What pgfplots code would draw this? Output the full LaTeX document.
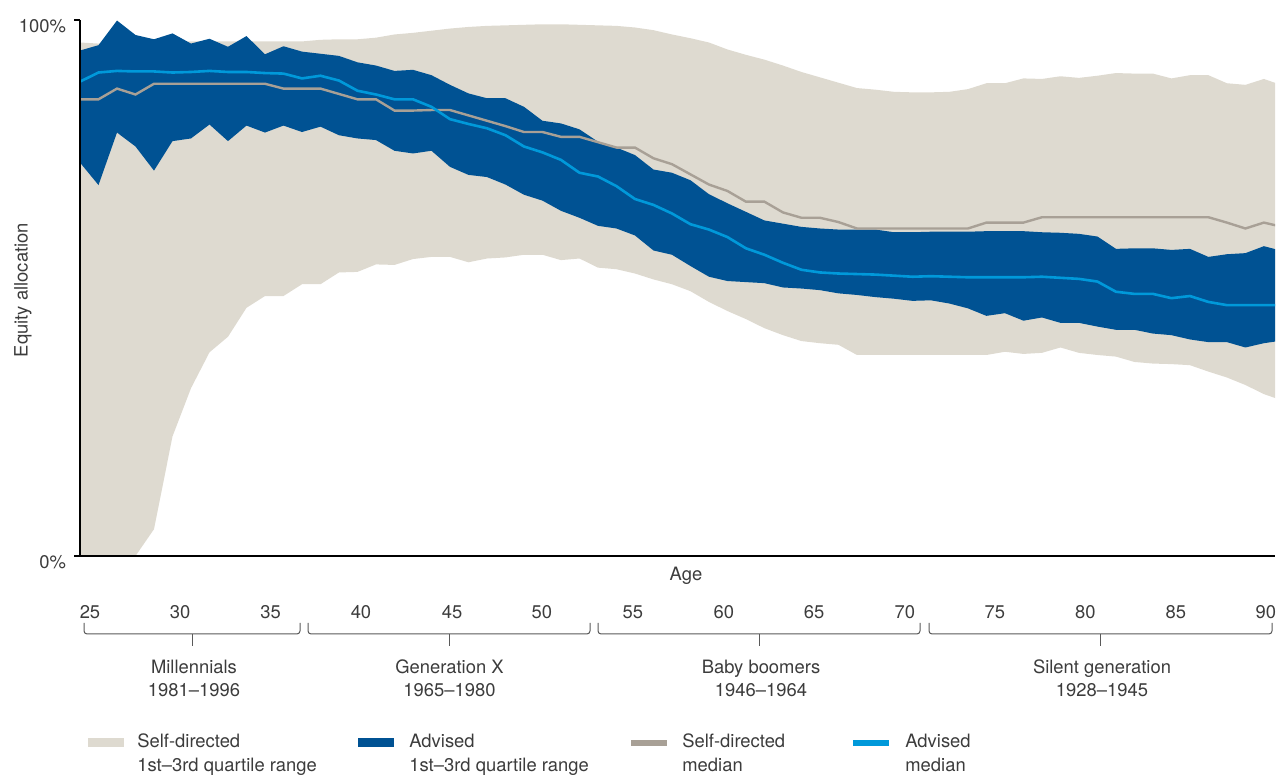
\documentclass[border=0pt]{standalone}
\usepackage{fontspec}
\setmainfont{TeX Gyre Heros}
\usepackage{pgfplots}
\pgfplotsset{compat=1.18}
\usepgfplotslibrary{fillbetween}
\usepackage{pgfplotstable}
\definecolor{beige}{HTML}{DEDAD0}
\definecolor{advblue}{HTML}{005293}
\definecolor{advlight}{HTML}{0099DA}
\definecolor{sdgray}{HTML}{A8A096}
\definecolor{txt}{HTML}{3C3C3C}

\pgfplotstableread{
age sl su al au sm am
25 0 95.8 73.4 94.3 85.2 88.5
26 0 95.6 69.2 95.3 85.2 90.2
27 0 96.0 79.0 99.9 87.2 90.5
28 0 96.0 76.4 97.2 86.1 90.4
29 5.0 96.0 71.9 96.4 88.1 90.4
30 22.3 96.0 77.4 97.5 88.1 90.2
31 31.3 96.0 77.9 95.6 88.1 90.3
32 38.0 96.0 80.5 96.5 88.1 90.5
33 40.9 96.0 77.4 95.0 88.1 90.3
34 46.3 96.0 80.3 97.0 88.1 90.3
35 48.5 96.0 79.0 93.6 88.1 90.1
36 48.5 96.0 80.3 95.1 87.2 90.0
37 50.7 96.0 79.1 94.1 87.2 89.1
38 50.7 96.3 80.1 93.7 87.2 89.6
39 52.9 96.4 78.5 93.3 86.2 88.7
40 53.0 96.4 77.9 92.1 85.2 86.8
41 54.4 96.7 77.6 91.5 85.2 86.1
42 54.3 97.3 75.6 90.5 83.1 85.2
43 55.4 97.6 75.1 90.7 83.1 85.2
44 55.8 98.0 75.6 89.7 83.2 83.8
45 55.8 98.4 72.6 87.9 83.2 81.5
46 54.8 98.7 71.1 86.3 82.2 80.6
47 55.5 98.9 70.7 85.4 81.2 79.8
48 55.7 99.0 69.3 85.4 80.2 78.5
49 56.2 99.1 67.4 83.8 79.1 76.4
50 56.2 99.2 66.3 81.2 79.1 75.3
51 55.2 99.2 64.4 80.7 78.2 73.9
52 55.5 99.1 63.1 79.6 78.2 71.5
53 53.8 99.0 61.6 77.3 77.2 70.8
54 53.5 98.9 61.1 76.2 76.2 69.0
55 52.7 98.6 59.8 74.8 76.2 66.6
56 51.6 98.1 57.0 72.1 74.2 65.5
57 50.7 97.3 56.2 71.5 73.1 63.9
58 49.4 96.6 54.1 70.1 71.2 61.9
59 47.4 95.8 52.1 67.5 69.3 60.9
60 45.7 94.5 51.3 65.8 68.1 59.5
61 44.2 93.5 51.1 64.2 66.1 57.4
62 42.5 92.6 50.9 62.6 66.1 56.2
63 41.2 91.5 50.1 62.0 64.1 54.7
64 40.1 90.3 49.9 61.4 63.1 53.4
65 39.7 89.3 49.6 61.1 63.1 52.9
66 39.4 88.3 49.0 60.9 62.3 52.7
67 37.5 87.3 48.7 60.9 61.1 52.6
68 37.5 87.0 48.3 60.9 61.1 52.5
69 37.5 86.6 48.0 60.4 61.1 52.3
70 37.5 86.5 47.6 60.4 61.1 52.1
71 37.5 86.5 47.7 60.5 61.1 52.2
72 37.5 86.6 47.1 60.5 61.1 52.1
73 37.5 87.1 46.2 60.5 61.1 52.0
74 37.5 88.2 44.8 60.6 62.2 52.0
75 38.1 88.2 45.3 60.6 62.2 52.0
76 37.7 89.1 43.9 60.6 62.2 52.0
77 37.9 89.0 44.5 60.4 63.2 52.1
78 38.9 89.5 43.5 60.3 63.2 51.9
79 37.9 89.2 43.5 60.1 63.2 51.7
80 37.5 89.6 42.8 59.6 63.2 51.2
81 37.2 90.1 42.2 57.3 63.2 49.3
82 36.2 90.0 42.2 57.4 63.2 48.9
83 35.9 90.0 41.5 57.4 63.2 48.9
84 35.8 89.1 41.2 57.1 63.2 48.1
85 35.6 89.7 40.4 57.3 63.2 48.5
86 34.4 89.7 39.9 55.8 63.2 47.4
87 33.3 88.2 39.9 56.3 62.2 46.8
88 31.9 87.9 38.9 56.5 61.1 46.8
89 30.2 89.0 39.7 57.8 62.2 46.8
90 29.0 87.8 40.2 56.9 61.4 46.8
}\data

\begin{document}
\begin{tikzpicture}[font=\fontsize{9.2}{11}\selectfont, text=txt]
\begin{axis}[at={(0pt,0pt)}, anchor=south west,
  scale only axis, width=597.5pt, height=268pt,
  xmin=25, xmax=89.6, ymin=0, ymax=100,
  axis lines*=left, axis on top,
  axis line style={line width=0.6pt, black},
  xtick={25.54,30.41,35.30,40.19,45.11,49.97,54.89,59.81,64.68,69.59,74.46,79.35,84.24,89.11},
  xticklabels={25,30,35,40,45,50,55,60,65,70,75,80,85,90},
  xtick style={draw=none},
  xticklabel style={anchor=base, yshift=-28.25pt, text=txt},
  ytick={0,100}, yticklabels={0\%,100\%},
  ytick style={line width=0.6pt, black},
  major tick length=3pt, tick align=outside,
  yticklabel style={anchor=east, xshift=-0.5pt, yshift=-3pt, text=txt},
]
\addplot[draw=none, name path=su] table[x=age,y=su]{\data};
\addplot[draw=none, name path=sl] table[x=age,y=sl]{\data};
\addplot[fill=beige, draw=none] fill between[of=su and sl];
\addplot[draw=none, name path=au] table[x=age,y=au]{\data};
\addplot[draw=none, name path=al] table[x=age,y=al]{\data};
\addplot[fill=advblue, draw=none] fill between[of=au and al];
\addplot[sdgray, line width=1.2pt] table[x=age,y=sm]{\data};
\addplot[advlight, line width=1.3pt] table[x=age,y=am]{\data};
\end{axis}
% axis labels
\node[rotate=90, anchor=center] at (-28.5pt,133pt) {Equity allocation};
\node[anchor=base] at (303pt,-12.5pt) {Age};
% generation braces
\begin{scope}[draw=txt!85, line width=0.5pt, rounded corners=1.5pt]
\draw (2pt,-33.5pt) -- (2pt,-39pt) -- (110pt,-39pt) -- (110pt,-33.5pt);
\draw (114pt,-33.5pt) -- (114pt,-39pt) -- (255pt,-39pt) -- (255pt,-33.5pt);
\draw (259pt,-33.5pt) -- (259pt,-39pt) -- (420pt,-39pt) -- (420pt,-33.5pt);
\draw (424.5pt,-33.5pt) -- (424.5pt,-39pt) -- (596pt,-39pt) -- (596pt,-33.5pt);
\end{scope}
\begin{scope}[draw=txt!85, line width=0.5pt]
\draw (56pt,-39pt) -- (56pt,-45pt);
\draw (184.5pt,-39pt) -- (184.5pt,-45pt);
\draw (339.5pt,-39pt) -- (339.5pt,-45pt);
\draw (510pt,-39pt) -- (510pt,-45pt);
\end{scope}
\node[anchor=base] at (57pt,-59pt) {Millennials};
\node[anchor=base] at (57pt,-70.5pt) {1981--1996};
\node[anchor=base] at (184.75pt,-59pt) {Generation X};
\node[anchor=base] at (184.75pt,-70.5pt) {1965--1980};
\node[anchor=base] at (340.5pt,-59pt) {Baby boomers};
\node[anchor=base] at (340.5pt,-70.5pt) {1946--1964};
\node[anchor=base] at (511pt,-59pt) {Silent generation};
\node[anchor=base] at (511pt,-70.5pt) {1928--1945};
% legend
\fill[beige] (4pt,-91pt) rectangle (22pt,-95.5pt);
\node[anchor=base west, inner sep=0pt] at (28.5pt,-96pt) {Self-directed};
\node[anchor=base west, inner sep=0pt] at (28.5pt,-108pt) {1st--3rd quartile range};
\fill[advblue] (139pt,-91pt) rectangle (157pt,-95.5pt);
\node[anchor=base west, inner sep=0pt] at (164.5pt,-96pt) {Advised};
\node[anchor=base west, inner sep=0pt] at (164.5pt,-108pt) {1st--3rd quartile range};
\fill[sdgray] (275.5pt,-92.2pt) rectangle (293.5pt,-95pt);
\node[anchor=base west, inner sep=0pt] at (301pt,-96pt) {Self-directed};
\node[anchor=base west, inner sep=0pt] at (301pt,-108pt) {median};
\fill[advlight] (386.5pt,-92.2pt) rectangle (404.5pt,-95pt);
\node[anchor=base west, inner sep=0pt] at (412.5pt,-96pt) {Advised};
\node[anchor=base west, inner sep=0pt] at (412.5pt,-108pt) {median};
\pgfresetboundingbox
\path[use as bounding box] (-40pt,-109.5pt) rectangle (598pt,278pt);
\end{tikzpicture}
\end{document}
